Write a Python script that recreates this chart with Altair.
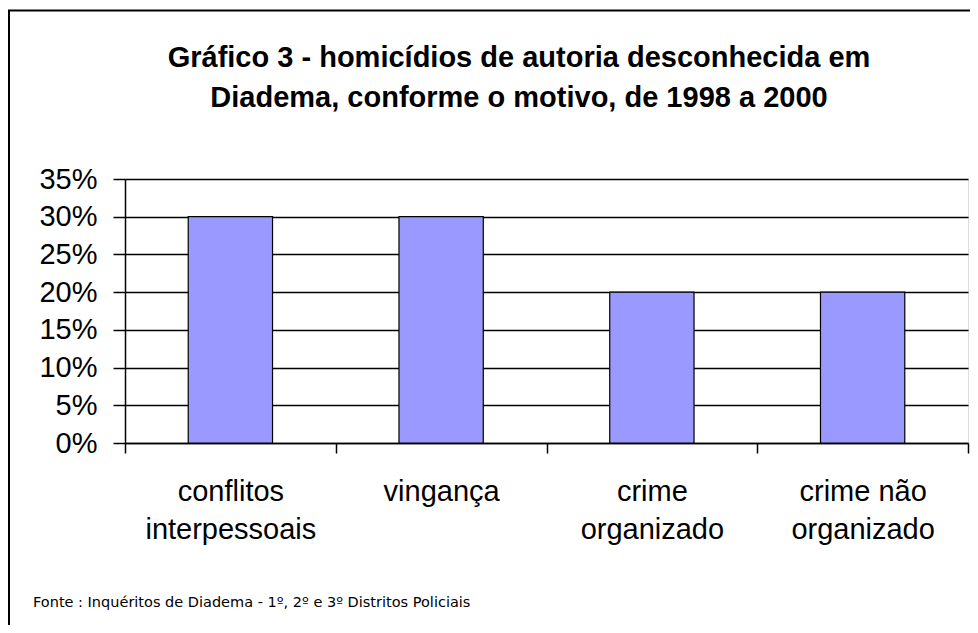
import altair as alt
import pandas as pd

# ---- data ----
categories = ["conflitos\ninterpessoais", "vingança", "crime\norganizado", "crime não\norganizado"]
values = [0.30, 0.30, 0.20, 0.20]
y_ticks = [0, 0.05, 0.10, 0.15, 0.20, 0.25, 0.30, 0.35]
title_lines = ["Gráfico 3 - homicídios de autoria desconhecida em",
               "Diadema, conforme o motivo, de 1998 a 2000"]
footer = "Fonte : Inquéritos de Diadema - 1º, 2º e  3º Distritos Policiais"

FONT = "Liberation Sans"
W, H = 843, 264

df = pd.DataFrame({"motivo": categories, "pct": values})

bars = alt.Chart(df).mark_bar(
    color="#9999FF", stroke="#000000", strokeWidth=1.2, width={"band": 0.4}
).encode(
    x=alt.X("motivo:N", sort=categories, title=None,
            scale=alt.Scale(paddingInner=0, paddingOuter=0),
            axis=alt.Axis(labelAngle=0, labelFontSize=29, labelFont=FONT,
                          labelColor="#000000", labelLineHeight=38,
                          labelExpr="datum.value ? split(datum.value, '\\n') : ''",
                          labelPadding=24, tickBand="extent", tickSize=10,
                          tickColor="#000000", tickWidth=1.5,
                          domainColor="#000000", domainWidth=1.5,
                          labelBaseline="top")),
    y=alt.Y("pct:Q", title=None,
            scale=alt.Scale(domain=[0, 0.35], nice=False),
            axis=alt.Axis(values=y_ticks, format=".0%", labelFontSize=29,
                          labelFont=FONT, labelColor="#000000",
                          labelPadding=16, tickSize=12, tickColor="#000000",
                          tickWidth=1.5, domainColor="#000000",
                          domainWidth=1.5, grid=True, gridColor="#000000",
                          gridWidth=1.5, gridOpacity=1)),
)

one = pd.DataFrame({"f": [0]})
frame = alt.Chart(one).mark_rect(
    filled=False, stroke="#000000", strokeWidth=2, clip=False
).encode(
    x=alt.value(-116), x2=alt.value(900),
    y=alt.value(-168.5), y2=alt.value(520),
)

title = alt.Chart(one).mark_text(
    text=title_lines, font=FONT, fontSize=29, fontWeight="bold",
    align="center", baseline="alphabetic", lineHeight=40, color="#000000"
).encode(x=alt.value(394), y=alt.value(-112))

foot = alt.Chart(one).mark_text(
    text=footer, font="DejaVu Sans", fontSize=14.5, align="left",
    baseline="middle", color="#000000"
).encode(x=alt.value(-92), y=alt.value(424))

chart = alt.layer(frame, bars, title, foot).properties(
    width=W, height=H,
    autosize=alt.AutoSizeParams(type="none"),
    padding={"left": 117, "top": 171, "right": 2, "bottom": 182},
).configure_view(stroke=None).configure(background="#ffffff")

chart.save("out.html", embed_options={"renderer": "svg", "actions": False})
